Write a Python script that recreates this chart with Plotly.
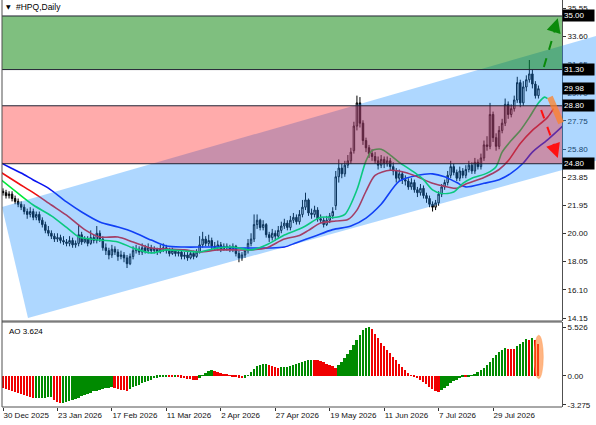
import plotly.graph_objects as go

# ---------------- data ----------------
tick_idx = [0, 18, 36, 54, 72, 90, 108, 126, 144, 162]
tick_txt = ["30 Dec 2025", "23 Jan 2026", "17 Feb 2026", "11 Mar 2026", "2 Apr 2026",
            "27 Apr 2026", "19 May 2026", "11 Jun 2026", "7 Jul 2026", "29 Jul 2026"]

opens = [22.9, 22.8, 22.6, 22.7, 22.4, 22.2, 22.0, 21.8, 21.5, 21.3,
         21.5, 21.1, 21.3, 20.9, 20.6, 20.2, 20.0, 19.8, 19.6, 19.7,
         19.5, 19.4, 19.3, 19.5, 19.2, 19.3, 19.9, 19.4, 19.6, 19.3,
         19.7, 19.5, 20.0, 19.6, 19.0, 18.8, 18.5, 18.9, 18.7, 18.4,
         18.5, 18.3, 17.9, 18.4, 18.8, 18.9, 18.7, 19.0, 18.8, 19.0,
         18.8, 18.9, 18.7, 18.9, 19.0, 18.8, 18.6, 18.8, 18.6, 18.7,
         18.4, 18.5, 18.3, 18.6, 18.4, 18.7, 19.2, 19.6, 19.3, 19.5,
         19.1, 19.0, 19.2, 18.9, 19.1, 19.0, 18.9, 19.1, 18.6, 18.3,
         18.5, 18.8, 19.3, 19.6, 20.6, 20.9, 20.4, 20.6, 19.9, 19.7,
         20.0, 19.8, 20.2, 20.5, 20.7, 20.4, 20.9, 21.1, 20.8, 21.3,
         21.8, 22.3, 21.4, 21.3, 21.6, 21.0, 20.9, 20.6, 20.9, 21.2,
         21.9, 23.9, 24.5, 24.1, 24.7, 25.0, 25.7, 27.4, 29.0, 27.6,
         26.4, 25.9, 25.5, 25.3, 25.0, 24.7, 25.1, 24.8, 25.0, 24.6,
         24.3, 23.8, 24.1, 23.7, 23.6, 23.2, 23.5, 23.0, 22.8, 23.1,
         22.6, 22.4, 22.0, 21.8, 22.1, 22.7, 23.2, 23.5, 24.0, 24.6,
         24.2, 23.8, 24.3, 24.0, 24.4, 24.7, 24.3, 24.9, 24.6, 25.2,
         26.1, 26.0, 28.2, 26.6, 26.0, 27.1, 27.6, 28.9, 28.2, 28.6,
         29.2, 30.4, 29.0, 30.1, 30.6, 31.0, 30.3, 29.5]

highs = [23.1, 23.0, 22.9, 22.9, 22.6, 22.4, 22.2, 22.0, 21.7, 21.8,
         21.7, 21.5, 21.5, 21.1, 20.8, 20.5, 20.2, 20.0, 20.0, 19.9,
         19.8, 19.6, 19.8, 19.7, 19.5, 20.6, 20.1, 19.8, 19.8, 20.2,
         19.9, 20.5, 20.2, 19.8, 19.3, 19.0, 19.2, 19.1, 18.9, 18.8,
         18.7, 18.5, 18.6, 19.1, 19.2, 19.1, 19.3, 19.2, 19.3, 19.2,
         19.1, 19.0, 19.2, 19.3, 19.2, 19.0, 19.0, 18.9, 18.9, 18.8,
         18.7, 18.7, 18.8, 18.8, 18.9, 19.8, 20.1, 19.8, 19.9, 19.7,
         19.4, 19.5, 19.4, 19.3, 19.3, 19.2, 19.3, 19.2, 18.8, 18.7,
         19.0, 19.6, 20.0, 21.3, 21.3, 21.0, 20.9, 20.7, 20.1, 20.3,
         20.2, 20.5, 20.8, 21.0, 20.9, 21.2, 21.4, 21.3, 21.6, 22.3,
         22.8, 22.4, 21.7, 21.9, 21.8, 21.3, 21.1, 21.2, 21.4, 21.8,
         24.3, 25.1, 24.8, 25.0, 25.4, 25.9, 27.7, 29.5, 29.4, 27.8,
         26.6, 26.1, 25.8, 25.6, 25.3, 25.4, 25.3, 25.3, 25.2, 24.9,
         24.5, 24.4, 24.3, 24.0, 23.8, 23.8, 23.7, 23.2, 23.4, 23.3,
         22.8, 22.6, 22.2, 22.3, 22.9, 23.4, 23.7, 24.3, 25.0, 24.8,
         24.4, 24.6, 24.5, 24.7, 25.0, 24.9, 25.2, 25.1, 25.5, 26.4,
         26.7, 29.0, 28.4, 26.9, 27.4, 27.9, 29.3, 29.1, 28.9, 29.5,
         30.8, 30.6, 30.5, 30.9, 31.96, 31.3, 30.5, 30.2]

lows = [22.6, 22.4, 22.4, 22.2, 22.0, 21.8, 21.6, 21.3, 21.0, 21.1,
        20.9, 20.9, 20.7, 20.4, 20.0, 19.8, 19.6, 19.4, 19.4, 19.3,
        19.2, 19.1, 19.1, 19.0, 19.0, 19.1, 19.2, 19.3, 19.1, 19.2,
        19.3, 19.3, 19.4, 18.8, 18.5, 18.2, 18.3, 18.5, 18.1, 18.2,
        18.0, 17.6, 17.8, 18.2, 18.6, 18.5, 18.5, 18.6, 18.6, 18.6,
        18.6, 18.5, 18.6, 18.7, 18.6, 18.4, 18.5, 18.4, 18.4, 18.2,
        18.2, 18.1, 18.2, 18.2, 18.3, 18.6, 19.0, 19.1, 19.1, 18.9,
        18.8, 18.8, 18.7, 18.8, 18.8, 18.7, 18.7, 18.4, 18.0, 18.1,
        18.3, 18.6, 19.1, 19.4, 20.3, 20.2, 20.2, 19.7, 19.4, 19.5,
        19.5, 19.6, 20.0, 20.3, 20.2, 20.2, 20.7, 20.6, 20.6, 21.1,
        21.6, 21.2, 21.0, 21.1, 20.8, 20.7, 20.4, 20.5, 20.7, 21.0,
        21.6, 23.5, 23.8, 23.9, 24.5, 24.8, 25.5, 27.1, 27.3, 26.1,
        25.6, 25.2, 25.0, 24.8, 24.4, 24.5, 24.5, 24.6, 24.3, 24.0,
        23.5, 23.6, 23.4, 23.3, 23.0, 23.0, 22.8, 22.5, 22.6, 22.4,
        22.1, 21.8, 21.5, 21.6, 21.9, 22.5, 23.0, 23.3, 23.8, 24.0,
        23.6, 23.6, 23.8, 23.8, 24.2, 24.1, 24.1, 24.4, 24.4, 25.0,
        25.7, 25.8, 26.3, 25.7, 25.8, 26.9, 27.4, 27.9, 28.0, 28.4,
        29.0, 28.7, 28.8, 29.8, 30.4, 30.0, 29.3, 29.3]

closes = [22.8, 22.6, 22.7, 22.4, 22.2, 22.0, 21.8, 21.5, 21.3, 21.5,
          21.1, 21.3, 20.9, 20.6, 20.2, 20.0, 19.8, 19.6, 19.7, 19.5,
          19.4, 19.3, 19.5, 19.2, 19.3, 19.9, 19.4, 19.6, 19.3, 19.7,
          19.5, 20.0, 19.6, 19.0, 18.8, 18.5, 18.9, 18.7, 18.4, 18.5,
          18.3, 17.9, 18.4, 18.8, 18.9, 18.7, 19.0, 18.8, 19.0, 18.8,
          18.9, 18.7, 18.9, 19.0, 18.8, 18.6, 18.8, 18.6, 18.7, 18.4,
          18.5, 18.3, 18.6, 18.4, 18.7, 19.2, 19.6, 19.3, 19.5, 19.1,
          19.0, 19.2, 18.9, 19.1, 19.0, 18.9, 19.1, 18.6, 18.3, 18.5,
          18.8, 19.3, 19.6, 20.6, 20.9, 20.4, 20.6, 19.9, 19.7, 20.0,
          19.8, 20.2, 20.5, 20.7, 20.4, 20.9, 21.1, 20.8, 21.3, 21.8,
          22.3, 21.4, 21.3, 21.6, 21.0, 20.9, 20.6, 20.9, 21.2, 21.5,
          23.9, 24.5, 24.1, 24.7, 25.0, 25.6, 27.4, 29.0, 27.6, 26.4,
          25.9, 25.5, 25.3, 25.0, 24.7, 25.1, 24.8, 25.0, 24.6, 24.3,
          23.8, 24.1, 23.7, 23.6, 23.2, 23.5, 23.0, 22.8, 23.1, 22.6,
          22.4, 22.0, 21.8, 22.1, 22.7, 23.2, 23.5, 24.0, 24.6, 24.2,
          23.8, 24.3, 24.0, 24.4, 24.7, 24.3, 24.9, 24.6, 25.2, 26.1,
          26.0, 28.2, 26.6, 26.0, 27.1, 27.6, 28.9, 28.2, 28.6, 29.2,
          30.4, 29.0, 30.1, 30.6, 31.0, 30.3, 29.5, 29.98]

# Alligator lines (read at sampled bars; shifted forward beyond the last bar)
jaw_x = [-1, 2, 6, 10, 15, 21, 26, 32, 38, 43, 49, 54, 60, 66, 72, 77, 82, 88, 93, 97,
         103, 109, 115, 120, 125, 131, 137, 142, 146, 150, 153, 159, 164, 168, 172, 175, 180, 185]
jaw_y = [24.9, 24.57, 24.16, 23.68, 23.12, 22.16, 21.47, 20.78, 20.43, 20.09, 19.53, 19.12,
         19.05, 19.05, 19.05, 18.98, 18.98, 18.98, 19.05, 19.35, 19.8, 20.25, 20.5, 21.05,
         22.0, 23.6, 24.0, 24.1, 23.9, 23.5, 23.2, 23.45, 23.7, 24.15, 24.85, 25.6, 26.45, 27.4]

teeth_x = [-1, 5, 10, 16, 21, 27, 32, 38, 43, 49, 54, 60, 65, 71, 76, 82, 87, 93, 98, 101,
           105, 110, 114, 117, 120, 123, 128, 133, 137, 142, 147, 150, 153, 159, 164, 167,
           171, 175, 180, 182]
teeth_y = [24.25, 23.45, 22.8, 21.95, 21.25, 20.25, 19.74, 19.74, 19.4, 18.98, 18.91, 18.85,
           18.71, 18.85, 18.85, 18.85, 18.98, 19.6, 19.85, 20.2, 20.7, 20.85, 20.95, 21.6,
           22.9, 24.0, 24.35, 24.2, 23.9, 23.45, 23.2, 23.1, 23.4, 23.85, 24.4, 25.0,
           26.2, 27.1, 28.0, 28.6]

lips_x = [-1, 5, 10, 16, 21, 25, 27, 32, 38, 43, 49, 54, 60, 65, 71, 76, 82, 87, 93, 98,
          100, 105, 110, 113, 117, 120, 122, 125, 128, 131, 136, 139, 142, 145, 149, 152,
          155, 160, 163, 165, 168, 171, 174, 177, 179, 180]
lips_y = [23.75, 22.75, 21.95, 21.2, 20.4, 19.75, 19.65, 19.53, 19.4, 18.98, 18.64, 18.85,
          18.78, 18.71, 18.98, 19.05, 18.85, 19.19, 19.88, 20.3, 20.5, 21.1, 21.1, 21.3,
          23.0, 25.0, 25.7, 25.8, 25.4, 24.9, 24.2, 23.7, 23.0, 22.75, 22.85, 23.45,
          23.8, 24.15, 24.6, 25.6, 26.4, 27.1, 28.0, 29.0, 29.4, 29.3]

ao = [-1.41, -1.45, -1.55, -1.68, -1.82, -1.95, -2.08, -2.2, -2.32, -2.42,
      -2.5, -2.48, -2.47, -2.46, -2.45, -2.44, -2.42, -2.7, -2.95, -3.1,
      -3.05, -2.95, -2.85, -2.72, -2.6, -2.45, -2.3, -2.15, -2.0, -1.88,
      -1.75, -1.65, -1.55, -1.45, -1.38, -1.32, -1.3, -1.4, -1.5, -1.55,
      -1.6, -1.65, -1.45, -1.3, -1.15, -1.0, -0.85, -0.7, -0.55, -0.4,
      -0.28, -0.18, -0.1, -0.05, -0.03, -0.08, -0.12, -0.1, -0.15, -0.2,
      -0.25, -0.3, -0.35, -0.42, -0.48, -0.2, 0.1, 0.35, 0.55, 0.7,
      0.6, 0.45, 0.35, 0.25, 0.15, 0.05, -0.05, -0.15, -0.22, -0.25,
      -0.2, 0.05, 0.4, 0.8, 1.15, 1.3, 1.33, 1.35, 1.25, 1.12,
      1.0, 0.95, 0.98, 1.02, 1.06, 1.12, 1.25, 1.4, 1.52, 1.62,
      1.72, 1.8, 1.82, 1.8, 1.76, 1.68, 1.55, 1.4, 1.25, 1.1,
      0.95, 1.2, 1.6, 2.0, 2.5, 3.0, 3.5, 4.1, 4.7, 5.2,
      5.45, 5.526, 5.3, 4.8, 4.3, 3.8, 3.4, 3.0, 2.6, 2.2,
      1.8, 1.4, 1.0, 0.65, 0.3, 0.05, -0.1, -0.25, -0.45, -0.7,
      -0.95, -1.2, -1.45, -1.65, -1.78, -1.6, -1.35, -1.1, -0.85, -0.6,
      -0.4, -0.25, -0.12, -0.15, -0.05, 0.1, 0.25, 0.45, 0.65, 0.9,
      1.2, 1.6, 2.0, 2.4, 2.75, 3.0, 3.15, 3.1, 3.08, 3.05,
      3.35, 3.6, 3.9, 4.15, 4.05, 4.3, 4.1, 3.624]

price_ticks = [35.55, 33.60, 31.65, 29.70, 27.75, 25.80, 23.85, 21.95, 20.00, 18.05, 16.10, 14.15]
ao_ticks = [5.526, 0.0, -3.275]
ao_ticktext = ["5.526", "0.00", "-3.275"]

# drawing objects
level_lines = [35.00, 31.30, 28.80, 24.80]
buy_zone = (31.30, 35.00)
sell_zone = (24.80, 28.80)
last_price = 29.98
chan_upper_x, chan_upper_y = [-0.33, 200.0], [21.81, 33.86]
chan_lower_x, chan_lower_y = [8.26, 200.0], [14.15, 25.24]
up_arrow = [(178.8, 31.48), (183.4, 34.7)]
down_arrow = [(177.9, 28.51), (183.4, 25.35)]
orange_stroke = [(180.8, 29.41), (184.5, 27.61)]

# ---------------- figure ----------------
W, H = 596, 425
ML, MB = 2, 18
PH = H - MB            # plot area height in px
PW = W - ML
AXPOS = (562 - ML) / PW
MAIN_DOM = [(PH - 321) / PH, 1.0]
AO_DOM = [0.0, (PH - 322) / PH]
FONT = "Liberation Sans, Arial, sans-serif"

n = len(closes)
idx = list(range(n))

fig = go.Figure()
fig.add_trace(go.Candlestick(
    x=idx, open=opens, high=highs, low=lows, close=closes,
    increasing=dict(line=dict(color="black", width=1), fillcolor="white"),
    decreasing=dict(line=dict(color="black", width=1), fillcolor="black"),
    whiskerwidth=0, xaxis="x", yaxis="y", showlegend=False, hoverinfo="skip"))

for xs, ys, col in [(jaw_x, jaw_y, "#0a14f0"), (teeth_x, teeth_y, "#ee1010"), (lips_x, lips_y, "#00e838")]:
    fig.add_trace(go.Scatter(x=xs, y=ys, mode="lines", line=dict(color=col, width=1.6, shape="spline", smoothing=0.8),
                             xaxis="x", yaxis="y", showlegend=False, hoverinfo="skip"))

ao_cols = ["#e00000"] + ["#008a00" if ao[i] > ao[i - 1] else "#f00000" for i in range(1, n)]
fig.add_trace(go.Bar(x=idx, y=ao, marker=dict(color=ao_cols, line=dict(width=0)), width=0.62,
                     xaxis="x2", yaxis="y2", showlegend=False, hoverinfo="skip"))

shapes = []
# equidistant channel (semi-transparent)
shapes.append(dict(type="path", xref="x", yref="y", layer="above",
                   path=f"M {chan_upper_x[0]},{chan_upper_y[0]} L {chan_upper_x[1]},{chan_upper_y[1]} "
                        f"L {chan_lower_x[1]},{chan_lower_y[1]} L {chan_lower_x[0]},{chan_lower_y[0]} Z",
                   fillcolor="rgba(30,144,255,0.36)", line=dict(width=0)))
# zones
shapes.append(dict(type="rect", xref="paper", yref="y", x0=0, x1=AXPOS, y0=sell_zone[0], y1=sell_zone[1],
                   fillcolor="rgba(255,0,0,0.33)", line=dict(width=0), layer="above"))
shapes.append(dict(type="rect", xref="paper", yref="y", x0=0, x1=AXPOS, y0=buy_zone[0], y1=buy_zone[1],
                   fillcolor="rgba(0,128,0,0.5)", line=dict(width=0), layer="above"))
for lv in level_lines:
    shapes.append(dict(type="line", xref="paper", yref="y", x0=0, x1=AXPOS, y0=lv, y1=lv,
                       line=dict(color="#222233", width=1), layer="above"))
# arrows (dashed shafts)
shapes.append(dict(type="line", xref="x", yref="y", x0=up_arrow[0][0], y0=up_arrow[0][1],
                   x1=up_arrow[1][0], y1=up_arrow[1][1], line=dict(color="#0a8a0a", width=2, dash="dash")))
shapes.append(dict(type="line", xref="x", yref="y", x0=down_arrow[0][0], y0=down_arrow[0][1],
                   x1=down_arrow[1][0], y1=down_arrow[1][1], line=dict(color="#ff1010", width=2, dash="dash")))
shapes.append(dict(type="line", xref="x", yref="y", x0=orange_stroke[0][0], y0=orange_stroke[0][1],
                   x1=orange_stroke[1][0], y1=orange_stroke[1][1], line=dict(color="rgba(255,130,40,0.75)", width=6)))
# AO highlight on the last bar
shapes.append(dict(type="circle", xref="x2", yref="y2", x0=idx[-1] - 1.4, x1=idx[-1] + 1.6, y0=-0.3, y1=ao[-1] + 1.0,
                   fillcolor="rgba(255,120,30,0.55)", line=dict(color="rgba(255,160,90,0.5)", width=1)))
# frames
FR = "#505050"
shapes.append(dict(type="line", xref="paper", yref="paper", x0=0, x1=0, y0=0, y1=1, line=dict(color=FR, width=1)))
shapes.append(dict(type="line", xref="paper", yref="paper", x0=0, x1=AXPOS, y0=MAIN_DOM[0], y1=MAIN_DOM[0], line=dict(color=FR, width=1)))
shapes.append(dict(type="line", xref="paper", yref="paper", x0=0, x1=AXPOS, y0=AO_DOM[1], y1=AO_DOM[1], line=dict(color=FR, width=1)))
shapes.append(dict(type="line", xref="paper", yref="paper", x0=0, x1=AXPOS, y0=0, y1=0, line=dict(color=FR, width=1)))

ann = []
# arrow heads
ann.append(dict(x=up_arrow[1][0], y=up_arrow[1][1] + 0.15, xref="x", yref="y", text="", showarrow=True,
                ax=-3, ay=10, arrowhead=2, arrowsize=1.3, arrowwidth=2.2, arrowcolor="#0a8a0a"))
ann.append(dict(x=down_arrow[1][0], y=down_arrow[1][1] - 0.15, xref="x", yref="y", text="", showarrow=True,
                ax=-3.5, ay=-10, arrowhead=2, arrowsize=1.3, arrowwidth=2.2, arrowcolor="#ff1010"))
# price labels of the level lines and last price
for lv in level_lines + [last_price]:
    ann.append(dict(x=AXPOS, y=lv, xref="paper", yref="y", xanchor="left", yanchor="middle",
                    text=f"{lv:.2f}", showarrow=False, bgcolor="#000000", borderpad=1, width=29, align="left",
                    font=dict(family=FONT, size=8, color="white")))
# titles
ann.append(dict(x=6 / PW, y=1 - 7 / PH, xref="paper", yref="paper", text="▼", showarrow=False,
                xanchor="center", yanchor="middle", font=dict(family="DejaVu Sans", size=6, color="black")))
ann.append(dict(x=12 / PW, y=1 - 7 / PH, xref="paper", yref="paper", text="#HPQ,Daily", showarrow=False,
                xanchor="left", yanchor="middle", font=dict(family=FONT, size=8.5, color="black")))
ann.append(dict(x=5 / PW, y=1 - 331 / PH, xref="paper", yref="paper", text=f"AO {ao[-1]:.3f}", showarrow=False,
                xanchor="left", yanchor="middle", font=dict(family=FONT, size=8, color="black")))

X0 = -1 / 3.025
X1 = X0 + PW / 3.025
axcommon = dict(showgrid=False, zeroline=False, fixedrange=True)
fig.update_layout(
    width=W, height=H, margin=dict(l=ML, r=0, t=0, b=MB, pad=0, autoexpand=False),
    paper_bgcolor="white", plot_bgcolor="white", showlegend=False, bargap=0,
    hovermode=False,
    xaxis=dict(domain=[0, 1], anchor="y", range=[X0, X1], showticklabels=False, ticks="",
               showline=False, rangeslider=dict(visible=False), **axcommon),
    xaxis2=dict(domain=[0, 1], anchor="y2", matches="x", range=[X0, X1], tickmode="array",
                tickvals=tick_idx, ticktext=tick_txt, ticks="outside", ticklen=3, tickcolor="#333",
                ticklabelposition="outside right", showline=False,
                tickfont=dict(family=FONT, size=8, color="#111"), **axcommon),
    yaxis=dict(domain=MAIN_DOM, anchor="free", position=AXPOS, side="right",
               range=[35.55 - 313 * 0.06903, 35.55 + 8 * 0.06903],
               tickmode="array", tickvals=price_ticks, ticktext=[f"{v:.2f}" for v in price_ticks],
               ticks="outside", ticklen=3, tickcolor="#333", showline=True, linecolor=FR, linewidth=1,
               tickfont=dict(family=FONT, size=8, color="#111"), **axcommon),
    yaxis2=dict(domain=AO_DOM, anchor="free", position=AXPOS, side="right",
                range=[-3.52, 6.13], tickmode="array", tickvals=ao_ticks, ticktext=ao_ticktext,
                ticks="outside", ticklen=3, tickcolor="#333", showline=True, linecolor=FR, linewidth=1,
                tickfont=dict(family=FONT, size=8, color="#111"), **axcommon),
    shapes=shapes, annotations=ann,
)

fig.write_html("out.html", config={"displayModeBar": False},
               post_script="document.body.style.margin='0';document.body.style.padding='0';"
                           "document.documentElement.style.overflow='hidden';")
